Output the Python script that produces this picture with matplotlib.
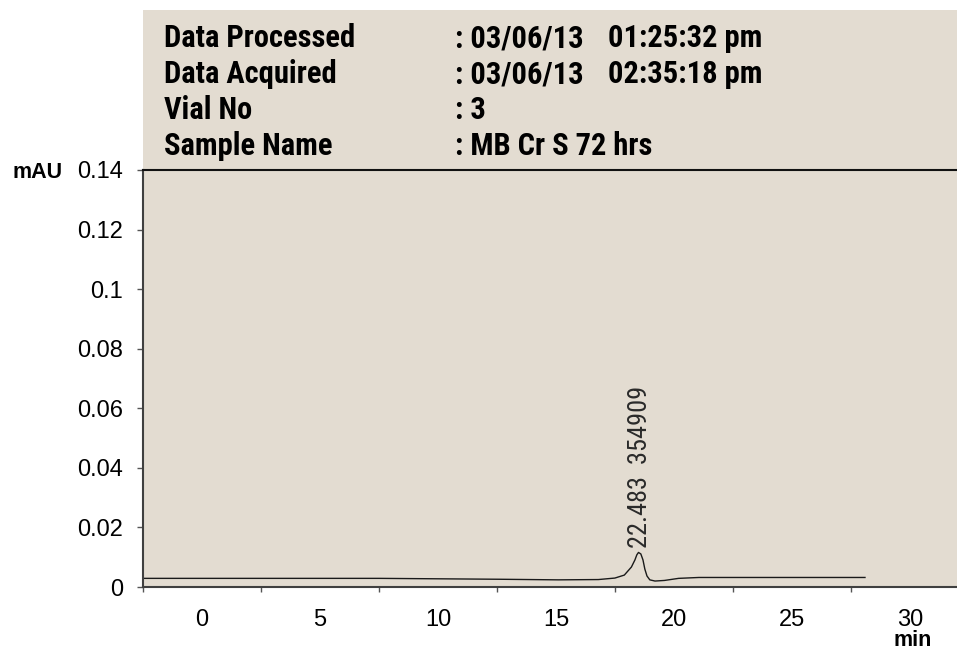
import matplotlib
matplotlib.use("Agg")
import matplotlib.pyplot as plt
from matplotlib.patches import Rectangle
from matplotlib import font_manager

# chromatogram trace (time in min, absorbance in mAU)
trace_t = [-2.5, 7.5, 12.6, 15.1, 16.8, 17.5, 17.9, 18.2, 18.35, 18.43, 18.5,
           18.6, 18.69, 18.77, 18.86, 18.98, 19.2, 19.6, 20.2, 21.06, 28.1]
trace_y = [0.0029, 0.0029, 0.0026, 0.0024, 0.0025, 0.0030, 0.0040, 0.0067, 0.0091,
           0.0108, 0.0116, 0.0111, 0.0091, 0.0060, 0.0037, 0.0024, 0.0020, 0.0022,
           0.0029, 0.0032, 0.0032]

peak_t = 18.55
peak_y = 0.0118
peak_label = "22.483  354909"

x_labels = [0, 5, 10, 15, 20, 25, 30]
x_ticks = [-2.5, 2.5, 7.5, 12.5, 17.5, 22.5, 27.5]
y_ticks = [0, 0.02, 0.04, 0.06, 0.08, 0.1, 0.12, 0.14]

header_labels = ["Data Processed", "Data Acquired", "Vial No", "Sample Name"]
header_values = [": 03/06/13", ": 03/06/13", ": 3", ": MB Cr S 72 hrs"]
header_times = ["01:25:32 pm", "02:35:18 pm", "", ""]

# pick a narrow bold face like Arial Narrow
fonts = {}
for f in font_manager.fontManager.ttflist:
    fonts.setdefault(f.name, set()).add(f.weight)
narrow = "Liberation Sans"
for cand in ["Liberation Sans Narrow", "Arial Narrow", "Roboto Condensed", "PT Sans Narrow",
             "Open Sans Condensed", "Asap Condensed", "Barlow Semi Condensed"]:
    if cand in fonts and any(w in (700, "bold") for w in fonts[cand]):
        narrow = cand
        break
arial = "Liberation Sans"

W, H = 957, 646
bg = "#e3dcd1"

fig = plt.figure(figsize=(W / 100, H / 100), dpi=100)

def fx(px):
    return px / W

def fy(py):
    return 1 - py / H

# beige paper behind header and plot
fig.patches.append(Rectangle((fx(143), fy(587)), fx(957) - fx(143), fy(10) - fy(587),
                             transform=fig.transFigure, facecolor=bg, edgecolor="none", zorder=-5))

ax = fig.add_axes([fx(143), fy(587), 1 - fx(143), fy(170) - fy(587)])
ax.set_facecolor("none")

ax.plot(trace_t, trace_y, color="#1a1a1a", lw=1.0)

ax.text(peak_t, peak_y + 0.0012, peak_label, rotation=90, ha="center", va="bottom",
        family=narrow, fontsize=19, color="#2a2a2a")

ax.set_xlim(-2.5, 32.0)
ax.set_ylim(0, 0.14)

ax.set_xticks(x_labels)
ax.set_xticklabels([str(v) for v in x_labels])
ax.set_xticks(x_ticks, minor=True)
ax.tick_params(axis="x", which="major", length=0, pad=15.5, labelsize=17)
ax.tick_params(axis="x", which="minor", length=3.6, width=1, color="#555555")

ax.set_yticks(y_ticks)
ax.set_yticklabels([f"{v:g}" for v in y_ticks])
ax.tick_params(axis="y", length=4.3, width=1, color="#555555", pad=10, labelsize=17)

for lab in ax.get_xticklabels() + ax.get_yticklabels():
    lab.set_family(arial)

ax.spines["right"].set_visible(False)
ax.spines["left"].set_color("#404040")
ax.spines["bottom"].set_color("#404040")
ax.spines["top"].set_color("#111111")
for s in ["left", "bottom", "top"]:
    ax.spines[s].set_linewidth(1.5)

fig.text(fx(12), fy(172), "mAU", ha="left", va="center", fontsize=15.5,
         fontweight="bold", family=arial)
fig.text(fx(913), fy(630), "min", ha="center", va="top", fontsize=15.5,
         fontweight="bold", family=arial)

baselines = [47, 83, 119, 155]
for i, b in enumerate(baselines):
    fig.text(fx(164), fy(b), header_labels[i], ha="left", va="baseline",
             fontsize=22, fontweight="bold", family=narrow)
    fig.text(fx(455), fy(b), header_values[i], ha="left", va="baseline",
             fontsize=22, fontweight="bold", family=narrow)
    if header_times[i]:
        fig.text(fx(608), fy(b), header_times[i], ha="left", va="baseline",
                 fontsize=22, fontweight="bold", family=narrow)

fig.savefig("out.png", dpi=100)
